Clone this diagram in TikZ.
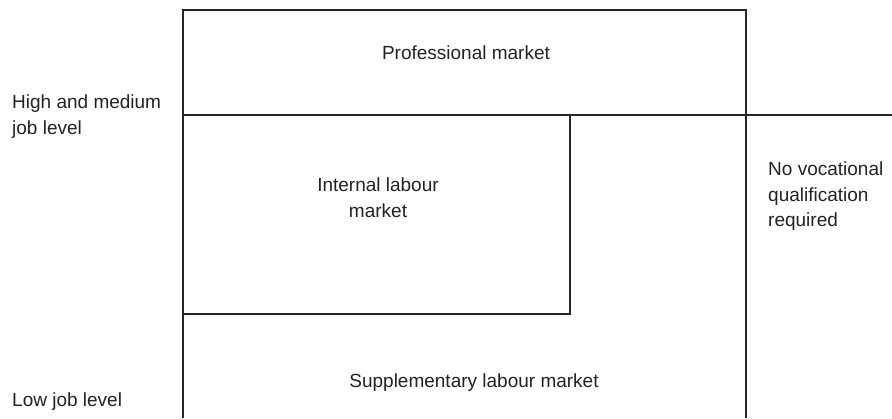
\documentclass[tikz,border=0pt]{standalone}
\usepackage{fontspec}
\setmainfont{Liberation Sans}
\definecolor{ink}{HTML}{262626}
\definecolor{txt}{HTML}{222222}
\begin{document}
\begin{tikzpicture}[x=1bp,y=-1bp,
  ln/.style={draw=ink, line width=1.6bp},
  lbl/.style={font=\fontsize{19bp}{25.5bp}\selectfont, text=txt, inner sep=0pt}]
\useasboundingbox (0,0) rectangle (892,418);
% frame coordinates
\coordinate (TL) at (183,10);
\coordinate (TR) at (746,10);
\coordinate (BL) at (183,418);
\coordinate (BR) at (746,418);
\coordinate (ML) at (183,115);
\coordinate (MR) at (892,115);
\coordinate (IR) at (570,115);
\coordinate (IBR) at (570,314);
\coordinate (IBL) at (183,314);
% lines
\draw[ln] (BL) -- (TL) -- (TR) -- (BR);
\draw[ln] (ML) -- (MR);
\draw[ln] (IR) -- (IBR) -- (IBL);
% labels
\node[lbl, anchor=base] (prof) at (466,59) {Professional market};
\node[lbl, anchor=north, align=center] (internal) at (378,178) {Internal labour\\market};
\node[lbl, anchor=base] (supp) at (474,387) {Supplementary labour market};
\node[lbl, anchor=north west, align=left] (high) at (12,95) {High and medium\\job level};
\node[lbl, anchor=base west] (low) at (12,406) {Low job level};
\node[lbl, anchor=north west, align=left] (novoc) at (768,162) {No vocational\\qualification\\required};
\end{tikzpicture}
\end{document}
